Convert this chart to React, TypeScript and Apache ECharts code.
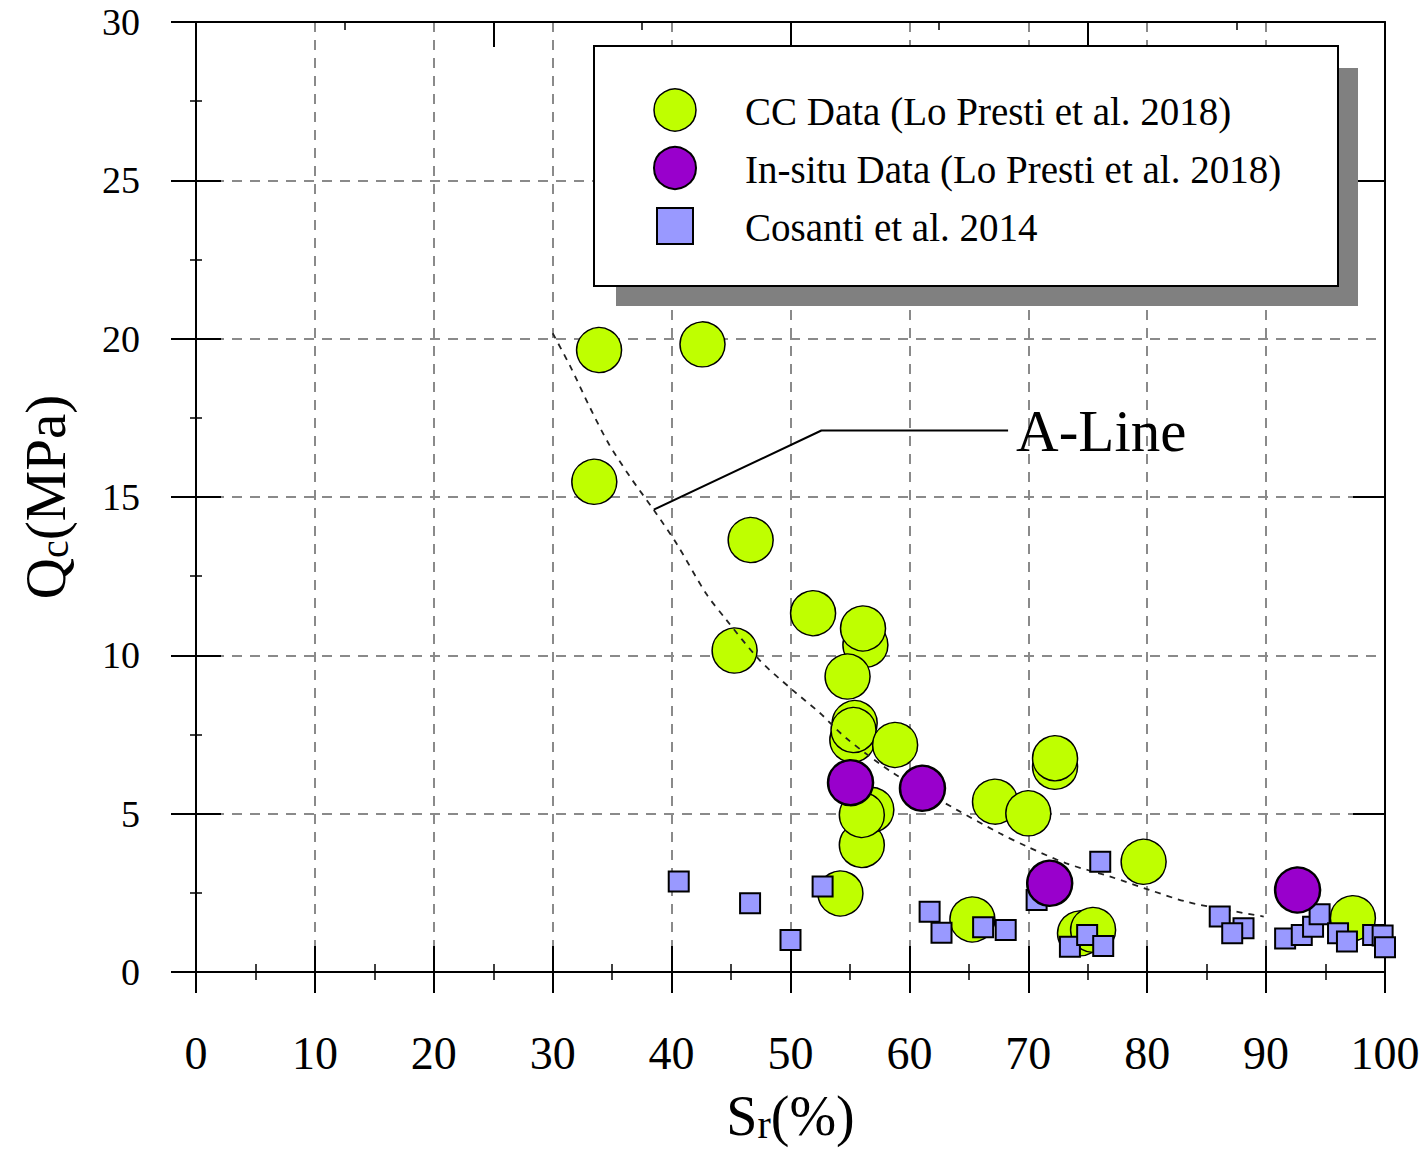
import React, { useEffect, useRef } from 'react';
import * as echarts from 'echarts';

const FONT = '"Liberation Serif", "Times New Roman", Times, serif';

// CC Data (Lo Presti et al. 2018)
const ccX = [33.9, 42.6, 33.5, 46.65, 45.3, 51.9, 56.3, 56.1, 54.8, 55.2, 55.4, 55.3, 58.8, 56.0, 56.8, 56.0, 54.2, 67.2, 70.0, 72.25, 72.25, 79.7, 65.3, 74.35, 75.45, 97.3];
const ccY = [19.64, 19.82, 15.48, 13.64, 10.15, 11.33, 10.33, 10.85, 9.33, 7.33, 7.86, 7.64, 7.17, 4.01, 5.12, 4.96, 2.48, 5.38, 5.01, 6.48, 6.75, 3.48, 1.66, 1.22, 1.33, 1.7];

// In-situ Data (Lo Presti et al. 2018)
const isX = [55.05, 61.1, 71.8, 92.65];
const isY = [5.98, 5.8, 2.8, 2.59];

// Cosanti et al. 2014
const coX = [40.6, 46.6, 50.0, 52.7, 61.7, 62.7, 66.2, 68.1, 70.7, 73.5, 74.95, 76.3, 76.05, 86.1, 88.1, 87.15, 91.6, 93.0, 93.95, 94.5, 96.05, 96.8, 99.0, 99.8, 100.0];
const coY = [2.86, 2.17, 1.01, 2.7, 1.9, 1.24, 1.41, 1.33, 2.27, 0.8, 1.17, 0.82, 3.48, 1.75, 1.38, 1.22, 1.06, 1.17, 1.43, 1.82, 1.22, 0.96, 1.17, 1.15, 0.78];

// A-Line
const aLineX = [30, 31.5, 33.1, 34.7, 36.5, 38.5, 40.4, 42.9, 44.5, 47.4, 50, 52.5, 54.7, 58.7, 64, 67.6, 69.9, 73.2, 76.9, 80.2, 83.3, 86.7, 89.8];
const aLineY = [20.17, 19.11, 17.85, 16.69, 15.64, 14.59, 13.54, 11.95, 11.17, 9.85, 8.96, 8.17, 7.38, 6.27, 5.12, 4.38, 3.96, 3.43, 3.01, 2.59, 2.22, 1.96, 1.75];

// A-Line leader
const leaderX = [38.5, 52.6, 68.3];
const leaderY = [14.6, 17.1, 17.1];

const xTicks = [0, 10, 20, 30, 40, 50, 60, 70, 80, 90, 100];
const yTicks = [0, 5, 10, 15, 20, 25, 30];

const legendNames = ['CC Data (Lo Presti et al. 2018)', 'In-situ Data (Lo Presti et al. 2018)', 'Cosanti et al. 2014'];

const GREEN = '#bfff00';
const PURPLE = '#9900cc';
const BLUE = '#9999ff';

const zip = (xs: number[], ys: number[]) => xs.map((x, i) => [x, ys[i]]);

const blackLine = { color: '#000', width: 2 };

function buildOption() {
  const xMin = xTicks[0];
  const xMax = xTicks[xTicks.length - 1];
  const yMin = yTicks[0];
  const yMax = yTicks[yTicks.length - 1];
  const LZ = 100;
  return {
    animation: false,
    backgroundColor: '#fff',
    grid: { left: 196, top: 22, width: 1189, height: 950, containLabel: false },
    xAxis: [
      {
        type: 'value', min: xMin, max: xMax, interval: 10, position: 'bottom',
        axisLine: { show: true, onZero: false, lineStyle: blackLine },
        axisTick: { show: true, inside: false, length: 21, lineStyle: { color: '#000', width: 2 } },
        minorTick: { show: true, splitNumber: 2, length: 8, lineStyle: { color: '#000', width: 1.5 } },
        axisLabel: { show: true, fontSize: 46, fontFamily: FONT, color: '#000', margin: 58 },
        splitLine: { show: true, lineStyle: { color: '#8a8a8a', width: 2, type: [10, 8] } },
        name: '{m|S}{s|r}{m|(%)}',
        nameLocation: 'middle',
        nameGap: 112,
        nameTextStyle: {
          fontFamily: FONT, color: '#000', fontSize: 54,
          rich: {
            m: { fontSize: 56, fontFamily: FONT, color: '#000', lineHeight: 60, verticalAlign: 'bottom' },
            s: { fontSize: 40, fontFamily: FONT, color: '#000', lineHeight: 32, verticalAlign: 'bottom' },
          },
        },
      },
      {
        type: 'value', min: xMin, max: xMax, interval: 10, position: 'bottom',
        axisLine: { show: false, onZero: false },
        axisTick: { show: true, inside: true, length: 26, lineStyle: { color: '#000', width: 2 } },
        minorTick: { show: true, splitNumber: 2, length: 8, lineStyle: { color: '#000', width: 1.5 } },
        axisLabel: { show: false },
        splitLine: { show: false },
      },
      {
        type: 'value', min: xMin, max: xMax, interval: 25, position: 'top',
        axisLine: { show: true, onZero: false, lineStyle: blackLine },
        axisTick: { show: true, inside: true, length: 25, lineStyle: { color: '#000', width: 2 } },
        minorTick: { show: true, splitNumber: 2, length: 8, lineStyle: { color: '#000', width: 1.5 } },
        axisLabel: { show: false },
        splitLine: { show: false },
      },
    ],
    yAxis: [
      {
        type: 'value', min: yMin, max: yMax, interval: 5, position: 'left',
        axisLine: { show: true, onZero: false, lineStyle: blackLine },
        axisTick: { show: true, inside: false, length: 25, lineStyle: { color: '#000', width: 2 } },
        minorTick: { show: true, splitNumber: 2, length: 6, lineStyle: { color: '#000', width: 1.5 } },
        axisLabel: { show: true, fontSize: 38, fontFamily: FONT, color: '#000', margin: 56 },
        splitLine: { show: true, lineStyle: { color: '#8a8a8a', width: 2, type: [10, 8] } },
        name: '{m|Q}{s|c}{m|(MPa)}',
        nameLocation: 'middle',
        nameGap: 122,
        nameTextStyle: {
          fontFamily: FONT, color: '#000', fontSize: 54,
          rich: {
            m: { fontSize: 57, fontFamily: FONT, color: '#000', lineHeight: 60, verticalAlign: 'bottom' },
            s: { fontSize: 40, fontFamily: FONT, color: '#000', lineHeight: 32, verticalAlign: 'bottom' },
          },
        },
      },
      {
        type: 'value', min: yMin, max: yMax, interval: 5, position: 'left',
        axisLine: { show: false, onZero: false },
        axisTick: { show: true, inside: true, length: 25, lineStyle: { color: '#000', width: 2 } },
        minorTick: { show: true, splitNumber: 2, length: 6, lineStyle: { color: '#000', width: 1.5 } },
        axisLabel: { show: false },
        splitLine: { show: false },
      },
      {
        type: 'value', min: yMin, max: yMax, interval: 5, position: 'right',
        axisLine: { show: true, onZero: false, lineStyle: blackLine },
        axisTick: { show: true, inside: true, length: 32, customValues: [5, 15, 25], lineStyle: { color: '#000', width: 2 } },
        axisLabel: { show: false },
        splitLine: { show: false },
      },
    ],
    series: [
      {
        name: legendNames[0],
        type: 'scatter',
        z: 2,
        symbol: 'circle',
        symbolSize: 45,
        itemStyle: { color: GREEN, borderColor: '#000', borderWidth: 1.5, opacity: 1 },
        data: zip(ccX, ccY),
      },
      {
        name: 'A-Line',
        type: 'line',
        z: 3,
        smooth: 0.3,
        showSymbol: false,
        symbol: 'none',
        lineStyle: { color: '#222', width: 1.8, type: [6, 6] },
        data: zip(aLineX, aLineY),
      },
      {
        name: 'A-Line leader',
        type: 'line',
        z: 3,
        showSymbol: false,
        symbol: 'none',
        lineStyle: { color: '#000', width: 2, type: 'solid' },
        data: zip(leaderX, leaderY),
        endLabel: {
          show: true,
          formatter: 'A-Line',
          fontFamily: FONT,
          fontSize: 59,
          color: '#000',
          distance: 8,
        },
      },
      {
        name: legendNames[2],
        type: 'scatter',
        z: 4,
        symbol: 'rect',
        symbolSize: 20,
        itemStyle: { color: BLUE, borderColor: '#000', borderWidth: 2, opacity: 1 },
        data: zip(coX, coY),
      },
      {
        name: legendNames[1],
        type: 'scatter',
        z: 5,
        symbol: 'circle',
        symbolSize: 45,
        itemStyle: { color: PURPLE, borderColor: '#000', borderWidth: 2.5, opacity: 1 },
        data: zip(isX, isY),
      },
    ],
    graphic: [
      { type: 'rect', z: LZ, shape: { x: 616, y: 68, width: 742, height: 238 }, style: { fill: '#808080' } },
      { type: 'rect', z: LZ + 1, shape: { x: 594, y: 46, width: 744, height: 240 }, style: { fill: '#fff', stroke: '#000', lineWidth: 2 } },
      { type: 'circle', z: LZ + 2, shape: { cx: 675, cy: 110, r: 21 }, style: { fill: GREEN, stroke: '#000', lineWidth: 1.5 } },
      { type: 'circle', z: LZ + 2, shape: { cx: 675, cy: 168, r: 21 }, style: { fill: PURPLE, stroke: '#000', lineWidth: 2 } },
      { type: 'rect', z: LZ + 2, shape: { x: 657, y: 208, width: 36, height: 36 }, style: { fill: BLUE, stroke: '#000', lineWidth: 2 } },
      { type: 'text', z: LZ + 2, x: 745, y: 111, style: { text: legendNames[0], fontFamily: FONT, fontSize: 39, fill: '#000', verticalAlign: 'middle', align: 'left' } },
      { type: 'text', z: LZ + 2, x: 745, y: 169, style: { text: legendNames[1], fontFamily: FONT, fontSize: 39, fill: '#000', verticalAlign: 'middle', align: 'left' } },
      { type: 'text', z: LZ + 2, x: 745, y: 227, style: { text: legendNames[2], fontFamily: FONT, fontSize: 39, fill: '#000', verticalAlign: 'middle', align: 'left' } },
    ],
  };
}

export default function App() {
  const ref = useRef<HTMLDivElement>(null);
  useEffect(() => {
    document.body.style.margin = '0';
    const chart = echarts.init(ref.current as HTMLDivElement, null, { renderer: 'svg' });
    chart.setOption(buildOption() as any);
    return () => chart.dispose();
  }, []);
  return <div ref={ref} style={{ width: 1427, height: 1149, background: '#fff' }} />;
}
